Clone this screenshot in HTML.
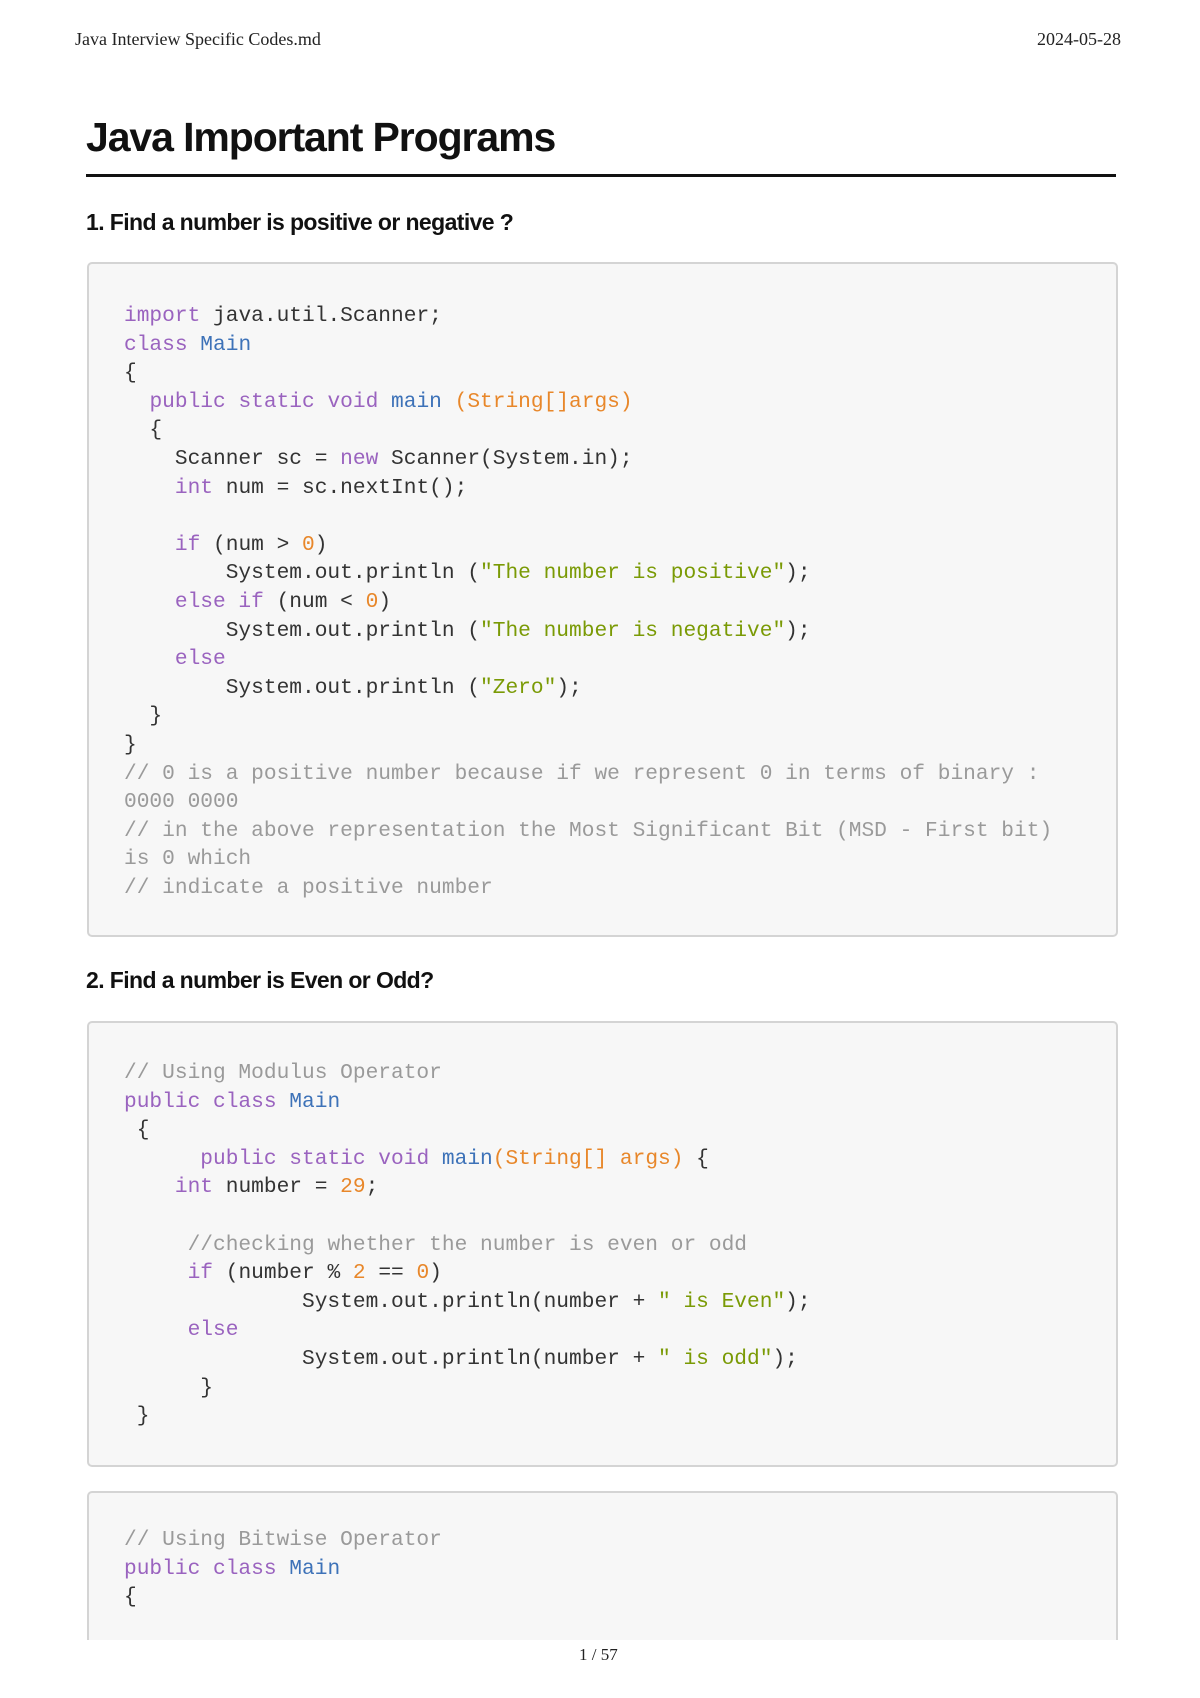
<!DOCTYPE html>
<html><head><meta charset="utf-8"><style>
body{margin:0;width:1200px;height:1698px;background:#fff;position:relative;overflow:hidden;font-family:"Liberation Sans",sans-serif}
.a{position:absolute}
.hdr{font-family:"Liberation Serif",serif;font-size:18px;color:#222;letter-spacing:0px}
h1{position:absolute;left:86px;top:114px;margin:0;font-size:41px;font-weight:bold;letter-spacing:-1.1px;color:#111}
.rule{position:absolute;left:86px;width:1030px;top:174px;height:3px;background:#111}
h2{position:absolute;margin:0;font-size:23px;font-weight:bold;letter-spacing:-0.6px;color:#111;left:86px}
.box{position:absolute;left:87px;width:1031px;background:#f7f7f7;border:2px solid #d4d4d4;border-radius:5px;box-sizing:border-box}
pre{position:absolute;left:124px;margin:0;font-family:"Liberation Mono",monospace;font-size:21.2px;line-height:28.6px;color:#333}
.k{color:#9a63bf}.b{color:#3d72b8}.o{color:#e8872a}.g{color:#7a9a05}.c{color:#9a9a9a}
</style></head><body>
<div class="a hdr" style="left:75px;top:29px">Java Interview Specific Codes.md</div>
<div class="a hdr" style="left:1037px;top:29px">2024-05-28</div>
<h1>Java Important Programs</h1>
<div class="rule"></div>
<h2 style="top:209px">1. Find a number is positive or negative ?</h2>
<div class="box" style="top:262px;height:675px"></div>
<pre style="top:302px"><span class="k">import</span> java.util.Scanner;
<span class="k">class</span> <span class="b">Main</span>
{
  <span class="k">public static void</span> <span class="b">main</span> <span class="o">(String[]args)</span>
  {
    Scanner sc = <span class="k">new</span> Scanner(System.in);
    <span class="k">int</span> num = sc.nextInt();

    <span class="k">if</span> (num &gt; <span class="o">0</span>)
        System.out.println (<span class="g">"The number is positive"</span>);
    <span class="k">else if</span> (num &lt; <span class="o">0</span>)
        System.out.println (<span class="g">"The number is negative"</span>);
    <span class="k">else</span>
        System.out.println (<span class="g">"Zero"</span>);
  }
}
<span class="c">// 0 is a positive number because if we represent 0 in terms of binary :
0000 0000
// in the above representation the Most Significant Bit (MSD - First bit)
is 0 which
// indicate a positive number</span></pre>
<h2 style="top:967px">2. Find a number is Even or Odd?</h2>
<div class="box" style="top:1021px;height:446px"></div>
<pre style="top:1059px"><span class="c">// Using Modulus Operator</span>
<span class="k">public class</span> <span class="b">Main</span>
 {
      <span class="k">public static void</span> <span class="b">main</span><span class="o">(String[] args)</span> {
    <span class="k">int</span> number = <span class="o">29</span>;

     <span class="c">//checking whether the number is even or odd</span>
     <span class="k">if</span> (number % <span class="o">2</span> == <span class="o">0</span>)
              System.out.println(number + <span class="g">" is Even"</span>);
     <span class="k">else</span>
              System.out.println(number + <span class="g">" is odd"</span>);
      }
 }</pre>
<div class="box" style="top:1491px;height:200px"></div>
<pre style="top:1526px"><span class="c">// Using Bitwise Operator</span>
<span class="k">public class</span> <span class="b">Main</span>
{</pre>
<div class="a" style="left:0;top:1640px;width:1200px;height:58px;background:#fff"></div>
<div class="a hdr" style="left:579px;top:1645px;font-size:17px">1 / 57</div>
</body></html>
